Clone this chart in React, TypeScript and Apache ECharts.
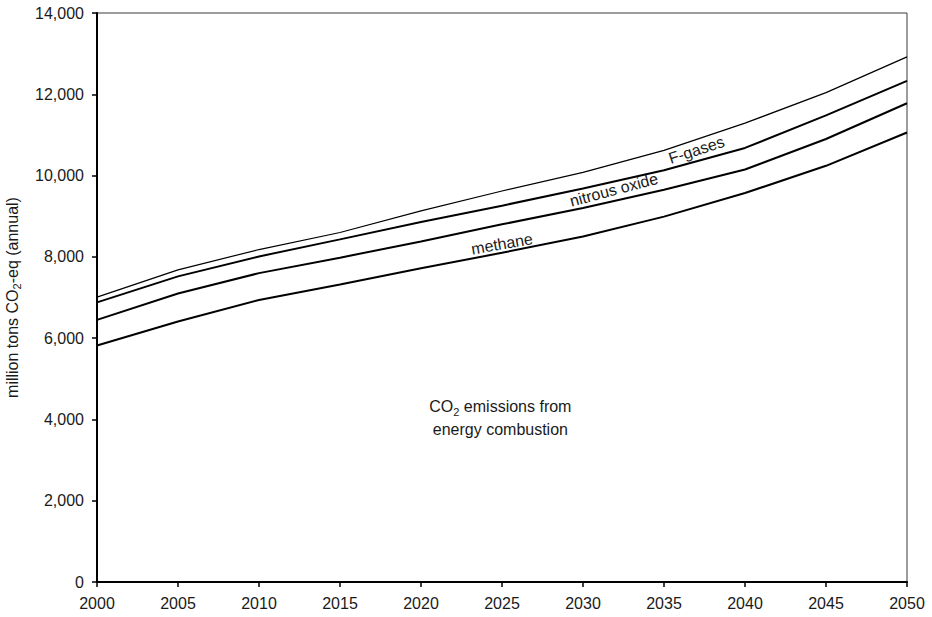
import React, { useEffect, useRef } from "react";
import * as echarts from "echarts";

// Projection years
const years = [2000, 2005, 2010, 2015, 2020, 2025, 2030, 2035, 2040, 2045, 2050];

// Stacked totals (million tons CO2-eq per year), each band adds one gas group
const co2Energy = [5820, 6410, 6940, 7320, 7720, 8100, 8500, 8990, 9570, 10240, 11060];
const withMethane = [6450, 7100, 7600, 7980, 8380, 8800, 9200, 9650, 10150, 10900, 11780];
const withNitrousOxide = [6880, 7520, 8010, 8430, 8860, 9260, 9680, 10130, 10680, 11480, 12330];
const withFGases = [7010, 7680, 8180, 8600, 9130, 9620, 10080, 10620, 11290, 12040, 12920];

// Axis ranges
const yMin = 0;
const yMax = 14000;
const yStep = 2000;
const xMin = 2000;
const xMax = 2050;
const xStep = 5;

// In-plot band labels: [text, year, value, rotation in degrees]
const bandLabels: [string, number, number, number][] = [
  ["methane", 2025, 8320, 10],
  ["nitrous oxide", 2031.9, 9650, 15],
  ["F-gases", 2037, 10630, 18],
];

const FONT = "'Liberation Sans', Arial, Helvetica, sans-serif";
const TEXT = "#1a1a1a";

const pairs = (vals: number[]) => years.map((y, i) => [y, vals[i]]);

export default function App() {
  const ref = useRef<HTMLDivElement>(null);

  useEffect(() => {
    if (!ref.current) return;
    const chart = echarts.init(ref.current, undefined, { renderer: "svg" });

    const lineSeries = (name: string, vals: number[], width: number) => ({
      type: "line",
      name,
      data: pairs(vals),
      symbol: "none",
      smooth: false,
      lineStyle: { color: "#000", width },
      z: 3,
    });

    chart.setOption({
      animation: false,
      backgroundColor: "#fff",
      grid: {
        left: 97,
        right: 25,
        top: 13,
        bottom: 35,
        containLabel: false,
        outerBoundsMode: "none",
        show: true,
        borderColor: "#3a3a3a",
        borderWidth: 1,
      },
      xAxis: {
        type: "value",
        min: xMin,
        max: xMax,
        interval: xStep,
        axisLine: { show: true, onZero: false, lineStyle: { color: "#000", width: 2 } },
        axisTick: { show: true, inside: false, length: 5, lineStyle: { color: "#000", width: 1.5 } },
        splitLine: { show: false },
        axisLabel: {
          margin: 13,
          fontFamily: FONT,
          fontSize: 16,
          color: TEXT,
          formatter: (v: number) => String(v),
        },
      },
      yAxis: {
        type: "value",
        min: yMin,
        max: yMax,
        interval: yStep,
        axisLine: { show: true, onZero: false, lineStyle: { color: "#000", width: 2 } },
        axisTick: { show: true, inside: false, length: 5, lineStyle: { color: "#000", width: 1.5 } },
        splitLine: { show: false },
        axisLabel: {
          margin: 13,
          fontFamily: FONT,
          fontSize: 16,
          color: TEXT,
          formatter: (v: number) => v.toLocaleString("en-US"),
        },
      },
      series: [
        lineSeries("CO2 emissions from energy combustion", co2Energy, 2),
        lineSeries("methane", withMethane, 2),
        lineSeries("nitrous oxide", withNitrousOxide, 2),
        lineSeries("F-gases", withFGases, 1.2),
      ],
    });

    const px = (x: number, y: number) =>
      chart.convertToPixel({ gridIndex: 0 }, [x, y]) as number[];

    const labels: any[] = bandLabels.map(([text, x, y, deg]) => {
      const p = px(x, y);
      return {
        type: "text",
        x: p[0],
        y: p[1],
        rotation: (deg * Math.PI) / 180,
        z: 10,
        style: {
          text,
          fontFamily: FONT,
          fontSize: 16,
          fill: TEXT,
          align: "center",
          verticalAlign: "middle",
        },
      };
    });

    const c = px(2024.9, 4040);
    labels.push({
      type: "text",
      x: c[0],
      y: c[1],
      z: 10,
      style: {
        text: "{r|CO}{s|2}{r| emissions from}\n{r|energy combustion}",
        fontFamily: FONT,
        fontSize: 16,
        fill: TEXT,
        align: "center",
        verticalAlign: "middle",
        lineHeight: 23,
        rich: {
          r: { fontFamily: FONT, fontSize: 16, fill: TEXT, lineHeight: 23 },
          s: { fontFamily: FONT, fontSize: 11, fill: TEXT, lineHeight: 23, verticalAlign: "bottom", padding: [6, 0, 0, 0] },
        },
      },
    });

    // Y-axis title, reading bottom to top
    const mid = px(xMin, (yMin + yMax) / 2);
    labels.push({
      type: "text",
      x: 12,
      y: mid[1],
      rotation: Math.PI / 2,
      z: 10,
      style: {
        text: "{r|million tons CO}{s|2}{r|-eq (annual)}",
        fontFamily: FONT,
        fontSize: 16,
        fill: TEXT,
        align: "center",
        verticalAlign: "middle",
        rich: {
          r: { fontFamily: FONT, fontSize: 16, fill: TEXT, lineHeight: 20 },
          s: { fontFamily: FONT, fontSize: 11, fill: TEXT, lineHeight: 20, verticalAlign: "bottom", padding: [6, 0, 0, 0] },
        },
      },
    });

    chart.setOption({ graphic: labels });

    return () => chart.dispose();
  }, []);

  return (
    <div
      ref={ref}
      style={{ position: "absolute", left: 0, top: 0, width: 932, height: 617, background: "#fff" }}
    />
  );
}
